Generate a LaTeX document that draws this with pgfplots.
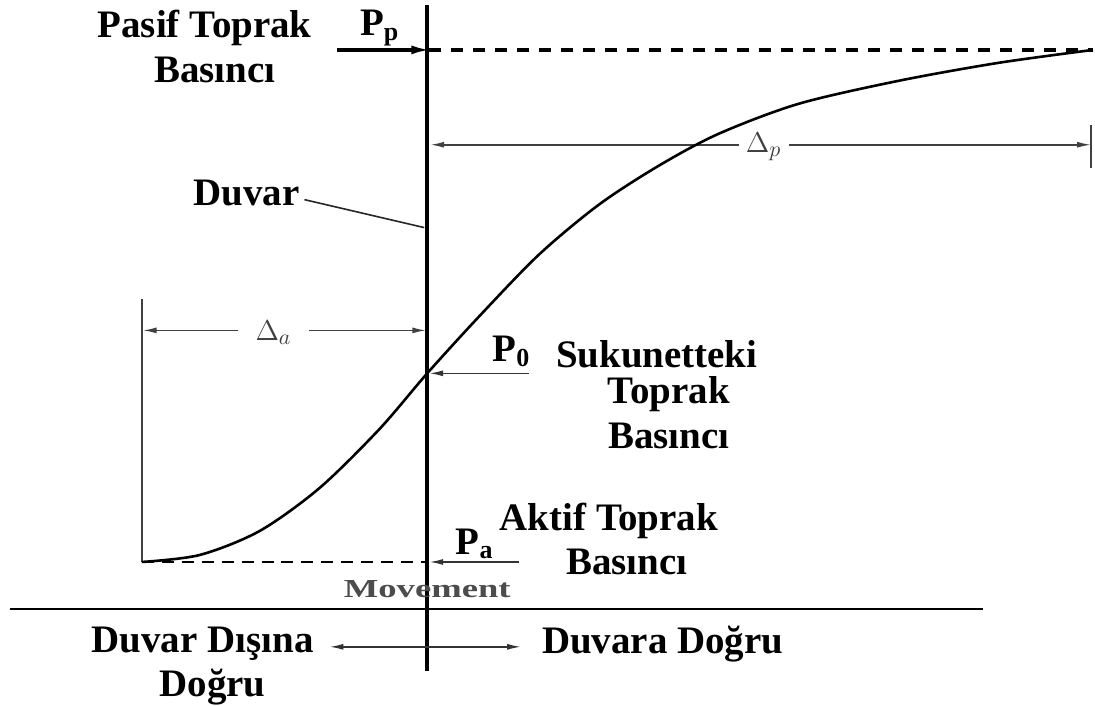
\documentclass[border=0pt]{standalone}
\usepackage{pgfplots}
\pgfplotsset{compat=1.18}
\usetikzlibrary{arrows.meta}
\usepackage{fontspec}
\setmainfont{Liberation Serif}
\begin{document}
\begin{tikzpicture}
\begin{axis}[hide axis, scale only axis, width=547.5pt, height=353.5pt,
  xmin=0, xmax=1095, ymin=0, ymax=707, y dir=reverse, clip=false]
% frame for bounding box
\addplot[draw=none, forget plot] coordinates {(0,0) (1095,0) (1095,707) (0,707)};
% wall
\addplot[black, line width=1.8pt] coordinates {(428,5) (428,672)};
% ground line
\addplot[black, line width=1.3pt] coordinates {(10,610) (985,610)};
% passive dashed
\addplot[black, line width=2pt, dash pattern=on 6pt off 5pt] coordinates {(430,50) (1095,50)};
% active dashed
\addplot[black, line width=1.4pt, dash pattern=on 6pt off 4pt] coordinates {(142,563) (428,563)};
% Pp arrow
\addplot[black, line width=1.7pt, -{Latex[length=10pt,width=4.5pt]}] coordinates {(338,50) (432,50)};
% P0 arrow
\addplot[black!80, line width=0.8pt, -{Latex[length=7pt,width=3pt]}] coordinates {(530,374) (430,374)};
% Pa arrow
\addplot[black!80, line width=0.8pt, -{Latex[length=7pt,width=3pt]}] coordinates {(520,563) (430,563)};
% Delta a
\addplot[black!75, line width=0.8pt, -{Latex[length=7pt,width=3pt]}] coordinates {(238,331) (143,331)};
\addplot[black!75, line width=0.8pt, -{Latex[length=7pt,width=3pt]}] coordinates {(310,331) (427,331)};
\addplot[black!75, line width=0.9pt] coordinates {(142,300) (142,563)};
% Delta p
\addplot[black!75, line width=0.8pt, -{Latex[length=7pt,width=3pt]}] coordinates {(740,145) (431,145)};
\addplot[black!75, line width=0.8pt, -{Latex[length=7pt,width=3pt]}] coordinates {(790,145) (1093,145)};
\addplot[black!75, line width=0.9pt] coordinates {(1093,125) (1093,168)};
% Duvar leader
\addplot[black!85, line width=0.8pt] coordinates {(305,200) (425,228)};
% bottom movement arrow
\addplot[black!80, line width=0.8pt, {Latex[length=7pt,width=3pt]}-{Latex[length=7pt,width=3pt]}] coordinates {(330,648) (522,648)};
% curve
\addplot[black, line width=1.3pt, smooth] coordinates {
(142,563) (200,556) (260,532) (320,489) (380,430) (428,374) (480,317) (540,255)
(600,205) (660,166) (720,134) (800,104) (900,81) (1000,63) (1095,50)};
% texts
\begin{scope}[every node/.style={font=\bfseries\fontsize{19.5}{23}\selectfont, inner sep=0pt}]
\node at (axis cs:205,28) {Pasif Toprak};
\node at (axis cs:215,70) {Basıncı};
\node at (axis cs:380,28) {P\raisebox{-0.25ex}{\fontsize{13}{13}\selectfont p}};
\node at (axis cs:247,193) {Duvar};
\node at (axis cs:512,352) {P\raisebox{-0.25ex}{\fontsize{13}{13}\selectfont 0}};
\node at (axis cs:658,355) {Sukunetteki};
\node at (axis cs:670,395) {Toprak};
\node at (axis cs:670,437) {Basıncı};
\node at (axis cs:610,522) {Aktif Toprak};
\node at (axis cs:475,545) {P\raisebox{-0.25ex}{\fontsize{13}{13}\selectfont a}};
\node at (axis cs:628,563) {Basıncı};
\node at (axis cs:203,645) {Duvar Dışına};
\node at (axis cs:213,688) {Doğru};
\node at (axis cs:664,645) {Duvara Doğru};
\end{scope}
\node[font=\bfseries\fontsize{13}{15}\selectfont, text=black!70, inner sep=0pt, xscale=1.41] at (axis cs:428,590) {Movement};
\node[font=\fontsize{15}{17}\selectfont, text=black!75, inner sep=0pt] at (axis cs:274,333) {$\Delta_a$};
\node[font=\fontsize{15}{17}\selectfont, text=black!75, inner sep=0pt] at (axis cs:765,147) {$\Delta_p$};
\end{axis}
\end{tikzpicture}
\end{document}
